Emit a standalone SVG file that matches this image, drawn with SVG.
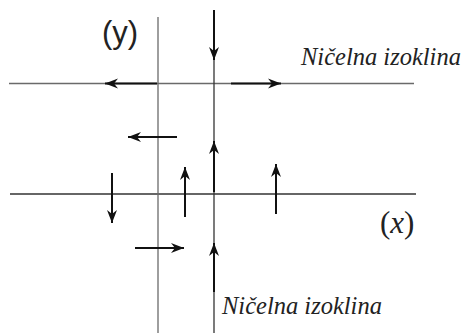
<svg xmlns="http://www.w3.org/2000/svg" width="462" height="333" viewBox="0 0 462 333">
<style>
.ax{stroke:#6a6a6a;stroke-width:1.3;fill:none}
.axd{stroke:#333;stroke-width:1.3;fill:none}
.ar{stroke:#111;stroke-width:2;fill:none;marker-end:url(#h)}
</style>
<defs>
<marker id="h" markerUnits="userSpaceOnUse" markerWidth="16" markerHeight="12" viewBox="-14 -6 16 12" refX="0" refY="0" orient="auto">
<path d="M0,0 L-13,-5 L-9,0 L-13,5 Z" fill="#111"/>
</marker>
</defs>
<rect width="462" height="333" fill="#fff"/>
<g id="axes">
<line class="ax" x1="9" y1="83.5" x2="414" y2="83.5"/>
<line class="axd" x1="10" y1="194" x2="416" y2="194"/>
<line class="ax" x1="158" y1="17" x2="158" y2="333"/>
<line class="axd" x1="214" y1="10" x2="214" y2="333"/>
</g>
<g id="connectors">
<line class="ar" x1="214" y1="10" x2="214" y2="60"/>
<line class="ar" x1="157" y1="83.5" x2="105" y2="83.5"/>
<line class="ar" x1="231" y1="83.5" x2="281" y2="83.5"/>
<line class="ar" x1="177" y1="137" x2="128" y2="137"/>
<line class="ar" x1="214" y1="192" x2="214" y2="141"/>
<line class="ar" x1="112" y1="173" x2="112" y2="223"/>
<line class="ar" x1="185" y1="217" x2="185" y2="167"/>
<line class="ar" x1="276" y1="214" x2="276" y2="164"/>
<line class="ar" x1="135" y1="248" x2="184" y2="248"/>
<line class="ar" x1="214" y1="292" x2="214" y2="243"/>
</g>
<g id="labels" fill="#222">
<text font-family="Liberation Sans, Arial, sans-serif" x="102" y="42.5" font-size="31">(y)</text>
<text font-family="Liberation Serif, Times New Roman, serif" x="380" y="233" font-size="31">(<tspan font-style="italic">x</tspan>)</text>
<text font-family="Liberation Serif, Times New Roman, serif" x="301" y="65" font-size="24.5" font-style="italic">Ničelna izoklina</text>
<text font-family="Liberation Serif, Times New Roman, serif" x="222" y="314" font-size="24.5" font-style="italic">Ničelna izoklina</text>
</g>
</svg>
